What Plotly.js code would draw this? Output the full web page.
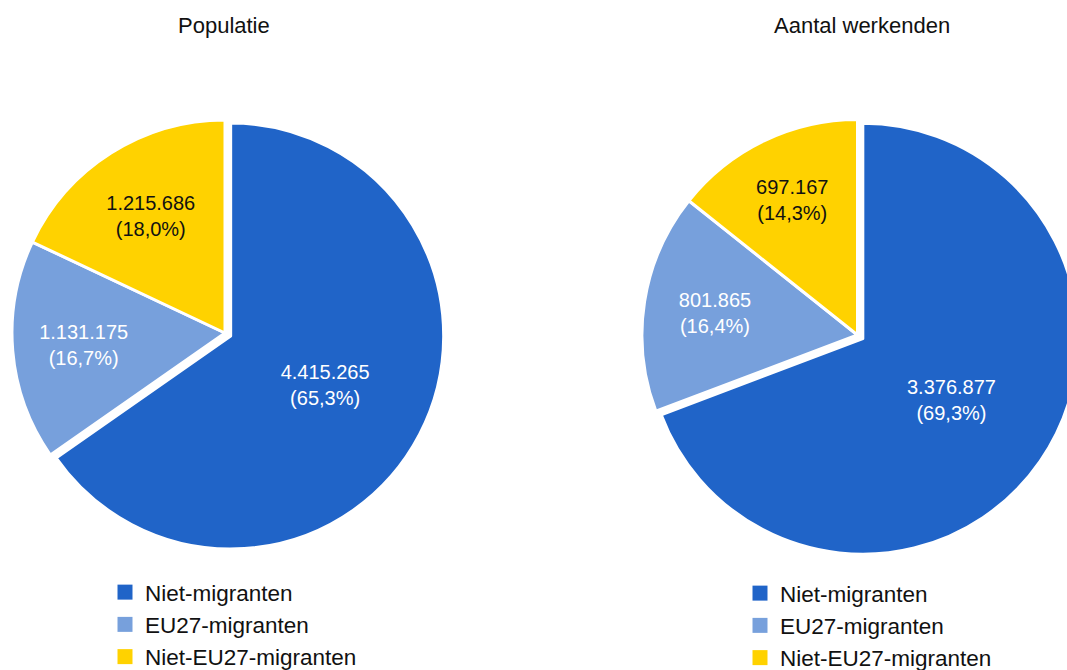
<!DOCTYPE html>
<html>
<head>
<meta charset="utf-8">
<script src="https://cdn.plot.ly/plotly-3.0.1.min.js"></script>
<style>
  html, body { margin: 0; padding: 0; background: #ffffff; overflow: hidden; }
  #chart { width: 1085px; height: 670px; }
</style>
</head>
<body>
<div id="chart"></div>
<script>
// ---- Data ----
const categories = ["Niet-migranten", "EU27-migranten", "Niet-EU27-migranten"];
const populatie = [4415265, 1131175, 1215686];
const werkenden = [3376877, 801865, 697167];
const chartTitles = ["Populatie", "Aantal werkenden"];

// ---- Styles ----
const colors = ["#2064C8", "#77A0DC", "#FFD200"];
const textColors = ["#ffffff", "#ffffff", "#111111"];
const pulls = [0.03, 0, 0];
const FONT = "Liberation Sans, Arial, sans-serif";

function pieTrace(values, domain, legendId, group) {
  return {
    type: "pie",
    labels: categories,
    values: values,
    sort: false,
    direction: "clockwise",
    rotation: 0,
    pull: pulls,
    domain: domain,
    legend: legendId,
    legendgroup: group,
    marker: { colors: colors, line: { color: "#ffffff", width: 3 } },
    textposition: "inside",
    insidetextorientation: "horizontal",
    texttemplate: "%{value:,.0f}<br>(%{percent:.1%})",
    insidetextfont: { family: FONT, size: 20, color: textColors },
    hoverinfo: "label+value+percent"
  };
}

const W = 1085, H = 670;
const data = [
  pieTrace(populatie, { x: [5.6 / W, 444.4 / W], y: [1 - 552.4 / H, 1 - 113.6 / H] }, "legend", "pop"),
  pieTrace(werkenden, { x: [635.5 / W, 1079.5 / W], y: [1 - 557 / H, 1 - 113 / H] }, "legend2", "werk")
];

const legendBase = {
  orientation: "v",
  xanchor: "left",
  yanchor: "top",
  font: { family: FONT, size: 22.5, color: "#111111" },
  bgcolor: "rgba(0,0,0,0)",
  tracegroupgap: 0
};

const layout = {
  width: W,
  height: H,
  margin: { l: 0, r: 0, t: 0, b: 0, autoexpand: false },
  paper_bgcolor: "#ffffff",
  separators: ",.",
  font: { family: FONT, color: "#111111" },
  showlegend: true,
  legend: Object.assign({}, legendBase, { x: 105 / W, y: 1 - 571 / H }),
  legend2: Object.assign({}, legendBase, { x: 740 / W, y: 1 - 572 / H }),
  annotations: [
    { text: chartTitles[0], xref: "paper", yref: "paper", x: 224 / W, y: 1 - 26 / H,
      xanchor: "center", yanchor: "middle", showarrow: false,
      font: { family: FONT, size: 22, color: "#111111" } },
    { text: chartTitles[1], xref: "paper", yref: "paper", x: 862 / W, y: 1 - 26 / H,
      xanchor: "center", yanchor: "middle", showarrow: false,
      font: { family: FONT, size: 22, color: "#111111" } }
  ]
};

function enlargeLegendSymbols() {
  document.querySelectorAll("#chart .legendpoints path").forEach(function (p) {
    p.setAttribute("d", "M7.5,7.5H-7.5V-7.5H7.5Z");
    p.style.strokeWidth = "0px";
  });
}

Plotly.newPlot("chart", data, layout, { displayModeBar: false, responsive: false })
  .then(function (gd) {
    enlargeLegendSymbols();
    gd.on("plotly_afterplot", enlargeLegendSymbols);
  });
</script>
</body>
</html>
